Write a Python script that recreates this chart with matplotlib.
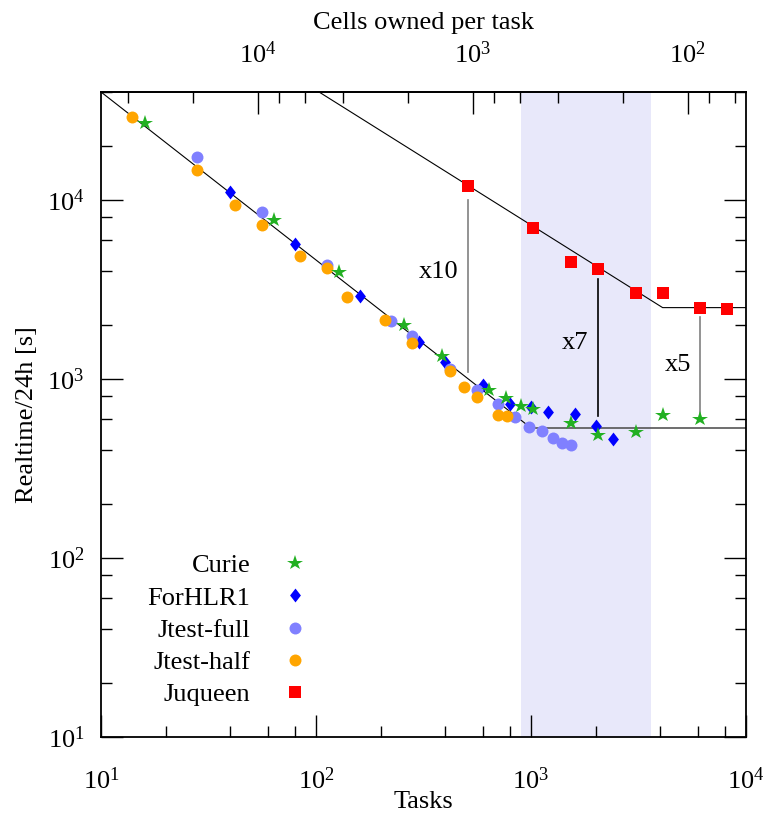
import numpy as np
import matplotlib.pyplot as plt
from matplotlib.ticker import LogLocator, NullFormatter, FixedLocator

plt.rcParams['font.family'] = ['Liberation Serif', 'DejaVu Serif']
plt.rcParams['mathtext.fontset'] = 'stix'
plt.rcParams['font.size'] = 19

# --- data: tasks / realtime per 24h [s] ---
curie_tasks = [16, 64, 128, 256, 384, 640, 768, 896, 1024, 1536, 2048, 3072, 4096, 6144]
curie_time = [27000, 7700, 3950, 2000, 1340, 870, 780, 705, 680, 565, 485, 505, 625, 600]

forhlr_tasks = [40, 80, 160, 300, 400, 600, 800, 1000, 1200, 1600, 2000, 2400]
forhlr_time = [11000, 5650, 2900, 1600, 1250, 930, 720, 700, 655, 635, 545, 460]

jfull_tasks = [28, 56, 112, 224, 280, 420, 560, 700, 840, 980, 1120, 1260, 1400, 1540]
jfull_time = [17300, 8500, 4350, 2100, 1730, 1130, 870, 720, 612, 540, 510, 465, 440, 430]

jhalf_tasks = [14, 28, 42, 56, 84, 112, 140, 210, 280, 420, 490, 560, 700, 770]
jhalf_time = [29000, 14600, 9300, 7200, 4830, 4150, 2850, 2140, 1590, 1100, 900, 790, 625, 620]

juq_tasks = [512, 1024, 1536, 2048, 3072, 4096, 6144, 8192]
juq_time = [12000, 7000, 4500, 4100, 3000, 3000, 2500, 2450]

# guide lines
low_x = [10, 1000, 10000]
low_y = [40000, 532, 532]
up_x = [100, 4096, 10000]
up_y = [41000, 2500, 2500]

# speed-up markers
gap_x = [512, 2048, 6144]
gap_top = [10000, 3630, 2210]
gap_bot = [1090, 618, 613]
gap_lbl_y = [3940, 1585, 1190]
gap_lbl = ['x10', 'x7', 'x5']
gap_col = ['#808080', 'black', '#808080']

shade = (900, 3600)
N_CELLS = 5.36e5
cell_ticks = [1e4, 1e3, 1e2]

fig = plt.figure(figsize=(7.64, 8.17), dpi=100)
ax = fig.add_axes([0.1322, 0.0979, 0.8442, 0.7895])
ax.set_xscale('log')
ax.set_yscale('log')

ax.axvspan(*shade, color='#e8e8fa', lw=0, zorder=0)

ax.plot(low_x[:2], low_y[:2], color='black', lw=0.8, zorder=1)
ax.plot(low_x[1:], low_y[1:], color='#555555', lw=1.2, zorder=1)
ax.plot(up_x, up_y, color='black', lw=0.8, zorder=1)

for x, yt, yb, yl, lbl, c in zip(gap_x, gap_top, gap_bot, gap_lbl_y, gap_lbl, gap_col):
    ax.plot([x, x], [yb, yt], color=c, lw=1.2, zorder=1)
    ax.annotate(lbl, (x, yl), xytext=(-7, 0), textcoords='offset points',
                ha='right', va='center', fontsize=19)

diamond = [(0, 1), (0.78, 0), (0, -1), (-0.78, 0)]
h_for, = ax.plot(forhlr_tasks, forhlr_time, ls='none', marker=diamond, ms=10,
                 color='#0000ff', mew=0, zorder=3)
h_full, = ax.plot(jfull_tasks, jfull_time, ls='none', marker='o', ms=8.6,
                  color='#8080ff', mew=0, zorder=3)
h_half, = ax.plot(jhalf_tasks, jhalf_time, ls='none', marker='o', ms=8.6,
                  color='#ffa500', mew=0, zorder=3)
h_cur, = ax.plot(curie_tasks, curie_time, ls='none', marker='*', ms=11.5,
                 color='#22b022', mew=0, zorder=3)
h_juq, = ax.plot(juq_tasks, juq_time, ls='none', marker='s', ms=8.2,
                 color='#ff0000', mew=0, zorder=3)

ax.set_xlim(10, 1e4)
ax.set_ylim(10, 4e4)

for axis in (ax.xaxis, ax.yaxis):
    axis.set_minor_locator(LogLocator(base=10, subs=(2, 4, 6, 8)))
    axis.set_minor_formatter(NullFormatter())

ax.tick_params(which='both', direction='in', top=False, right=True, width=1)
ax.tick_params(which='major', length=15.5)
ax.tick_params(which='minor', length=7.7)
ax.tick_params(axis='x', pad=22)
ax.tick_params(axis='y', pad=12)
for s in ax.spines.values():
    s.set_linewidth(1.3)

ax.set_xlabel('Tasks', labelpad=-2)
ax.set_ylabel('Realtime/24h [s]', labelpad=6)


def to_cells(t):
    t = np.asarray(t, dtype=float)
    with np.errstate(divide='ignore'):
        return N_CELLS / t


sec = ax.secondary_xaxis('top', functions=(to_cells, to_cells))
sec.xaxis.set_major_locator(FixedLocator(cell_ticks))
sec.xaxis.set_minor_locator(LogLocator(base=10, subs=(2, 4, 6, 8)))
sec.xaxis.set_minor_formatter(NullFormatter())
sec.tick_params(which='both', direction='in', width=1, pad=17)
sec.tick_params(which='major', length=15.5)
sec.tick_params(which='minor', length=7.7)
sec.spines['top'].set_linewidth(1.3)
sec.set_xlabel('Cells owned per task', labelpad=9)

ax.legend([h_cur, h_for, h_full, h_half, h_juq],
          ['Curie', 'ForHLR1', 'Jtest-full', 'Jtest-half', 'Juqueen'],
          loc='lower left', bbox_to_anchor=(0.035, 0.011), frameon=False,
          markerfirst=False, handlelength=1.0, handletextpad=1.2,
          labelspacing=0.33, fontsize=19)

fig.savefig('out.png', dpi=100)
